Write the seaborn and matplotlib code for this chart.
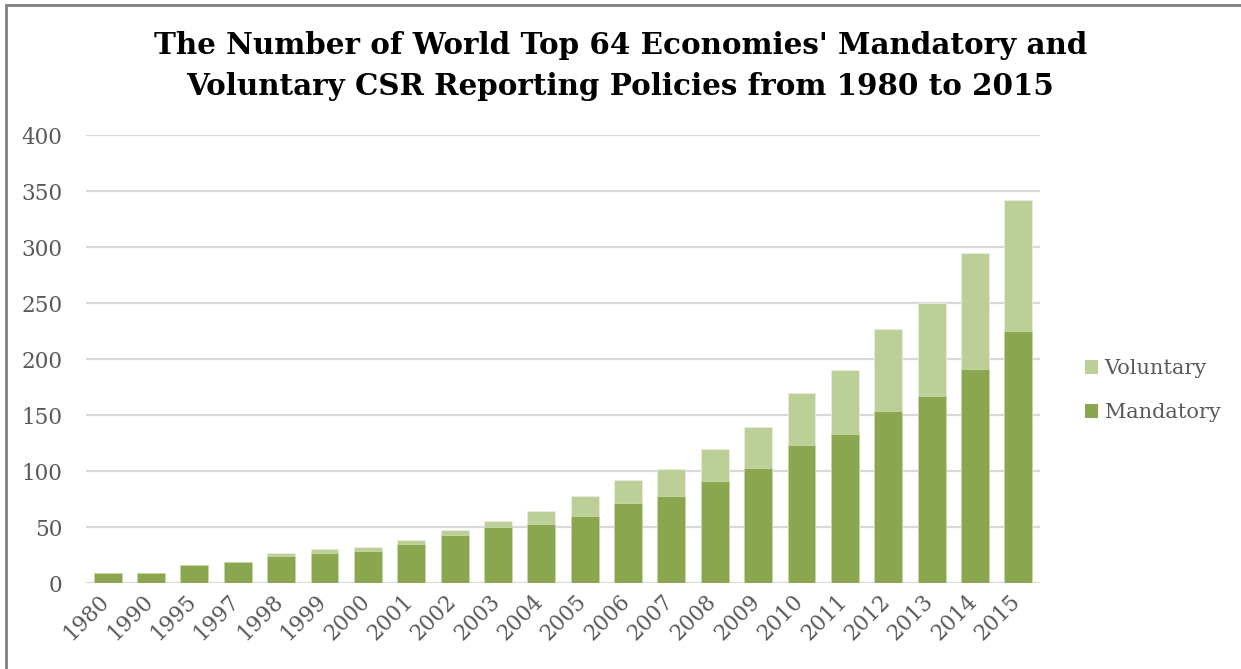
import matplotlib
matplotlib.use("Agg")
import matplotlib.pyplot as plt
from matplotlib.patches import Patch, Rectangle
from matplotlib.transforms import ScaledTranslation
import seaborn as sns
import pandas as pd

years = ["1980", "1990", "1995", "1997", "1998", "1999", "2000", "2001", "2002",
         "2003", "2004", "2005", "2006", "2007", "2008", "2009", "2010", "2011",
         "2012", "2013", "2014", "2015"]
mandatory = [9, 9, 16, 19, 24, 27, 29, 35, 43, 50, 53, 60, 71, 78, 91, 103,
             123, 133, 154, 167, 191, 225]
voluntary = [0, 0, 0, 0, 3, 3, 3, 3, 4, 5, 11, 18, 21, 24, 29, 36,
             47, 57, 73, 83, 104, 117]
y_ticks = [0, 50, 100, 150, 200, 250, 300, 350, 400]

title = "The Number of World Top 64 Economies' Mandatory and\nVoluntary CSR Reporting Policies from 1980 to 2015"

C_MAND = "#8aa64f"
C_VOL = "#bbcf97"
C_TEXT = "#595959"
C_GRID = "#d9d9d9"

sns.set_theme(style="white")
plt.rcParams["font.family"] = ["DejaVu Serif"]

df = pd.DataFrame({"year": years, "Mandatory": mandatory, "Voluntary": voluntary})
df["total"] = df["Mandatory"] + df["Voluntary"]

fig = plt.figure(figsize=(12.41, 6.69), dpi=100)
ax = fig.add_axes([86 / 1241, 1 - 583 / 669, (1040 - 86) / 1241, (583 - 135) / 669])

# stacked bars: full height in the light colour, mandatory part drawn over it
sns.barplot(data=df, x="year", y="total", color=C_VOL, saturation=1, width=0.645,
            edgecolor="#e8eedd", linewidth=0.6, ax=ax, zorder=3)
sns.barplot(data=df, x="year", y="Mandatory", color=C_MAND, saturation=1, width=0.645,
            edgecolor="#c9d8ad", linewidth=0.6, ax=ax, zorder=4)

ax.set_ylim(0, 400)
ax.set_xlim(-0.5, len(years) - 0.5)
ax.set_yticks(y_ticks)
ax.set_xlabel("")
ax.set_ylabel("")
ax.yaxis.grid(True, color=C_GRID, linewidth=1.6, zorder=0)
ax.set_axisbelow(True)
for s in ax.spines.values():
    s.set_visible(False)

ax.tick_params(axis="y", labelsize=15.5, labelcolor=C_TEXT, length=0, pad=17)
ax.tick_params(axis="x", labelsize=15.5, labelcolor=C_TEXT, length=0, pad=11)
shift = ScaledTranslation(-1 / 72, 0, fig.dpi_scale_trans)
for lbl in ax.get_xticklabels():
    lbl.set_rotation(45)
    lbl.set_ha("right")
    lbl.set_va("center")
    lbl.set_rotation_mode("anchor")
    lbl.set_transform(lbl.get_transform() + shift)
for lbl in ax.get_yticklabels():
    lbl.set_ha("right")

fig.text(0.5, 1 - 66 / 669, title, ha="center", va="center", fontsize=21.2,
         fontweight="bold", color="black", linespacing=1.5)

handles = [Patch(facecolor=C_VOL, edgecolor="none", label="Voluntary"),
           Patch(facecolor=C_MAND, edgecolor="none", label="Mandatory")]
fig.legend(handles=handles, loc="center left", bbox_to_anchor=(1066 / 1241, 1 - 391 / 669),
           frameon=False, fontsize=15, labelcolor=C_TEXT, handlelength=0.65,
           handleheight=0.65, handletextpad=0.3, labelspacing=1.2)

# outer frame (left and top edges)
fig.add_artist(Rectangle((6 / 1241, -0.1), 1.2, 1 - 5 / 669 + 0.1, transform=fig.transFigure,
                         fill=False, edgecolor="#808080", linewidth=2))

fig.savefig("out.png", dpi=100, facecolor="white")
